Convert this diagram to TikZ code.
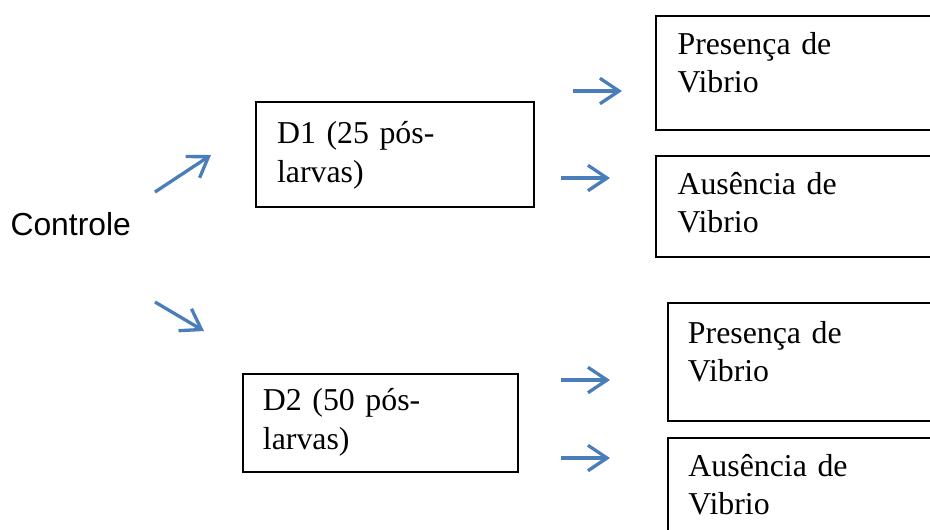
\documentclass[tikz,border=0pt]{standalone}
\usepackage{fontspec}
\setmainfont{Liberation Serif}
\newfontfamily\arialfont{Liberation Sans}
\usepackage{tikz}
\usetikzlibrary{arrows.meta}
\usetikzlibrary{positioning}
\definecolor{setaazul}{RGB}{74,126,187}
\tikzstyle{caixa} = [draw, rectangle, anchor=north west, line width=0.8pt,
inner ysep=0pt, align=left, font=\fontsize{12}{14.6}\selectfont]
\tikzstyle{seta} = [draw, -{Straight Barb[length=7.2pt,width=9.6pt]}, color=setaazul, line width=1.25pt]

\begin{document}
\begin{tikzpicture}[x=0.377pt, y=-0.377pt]
	\useasboundingbox (0,0) rectangle (930,529);
	\node [anchor=base west, inner sep=0pt, font=\arialfont\fontsize{12}{14}\selectfont] (ctrl) at (10,235) {Controle};
	%% Boxes
	\node [caixa, inner xsep=7.9pt, text width=88.9pt, text height=15.8pt, text depth=23.8pt] (d1) at (255,101) {D1 (25 pós-\\larvas)};
	\node [caixa, inner xsep=7.5pt, text width=88.7pt, text height=13.9pt, text depth=23pt] (d2) at (242,373) {D2 (50 pós-\\larvas)};
	\node [caixa, inner xsep=8.1pt, text width=100pt, text height=14.3pt, text depth=28.7pt] (p1) at (655,15) {Presença de\\Vibrio};
	\node [caixa, inner xsep=8.1pt, text width=100pt, text height=14.3pt, text depth=23.8pt] (a1) at (655,155) {Ausência de\\Vibrio};
	\node [caixa, inner xsep=7.5pt, text width=100pt, text height=15.1pt, text depth=29.4pt] (p2) at (667,302) {Presença de\\Vibrio};
	\node [caixa, inner xsep=7.7pt, text width=100pt, text height=14.3pt, text depth=32pt] (a2) at (667,437) {Ausência de\\Vibrio};
	%% Arrow ends
	\coordinate (up0) at (155,192);  \coordinate (up1) at (211,155);
	\coordinate (dn0) at (155,302);  \coordinate (dn1) at (204,331);
	\coordinate (r10) at (573,91);   \coordinate (r11) at (622,91);
	\coordinate (r20) at (561,178);  \coordinate (r21) at (610,178);
	\coordinate (r30) at (561,380);  \coordinate (r31) at (610,380);
	\coordinate (r40) at (561,458);  \coordinate (r41) at (610,458);
	%% Flows
	\path [seta] (up0) -- (up1);
	\path [seta] (dn0) -- (dn1);
	\path [seta] (r10) -- (r11);
	\path [seta] (r20) -- (r21);
	\path [seta] (r30) -- (r31);
	\path [seta] (r40) -- (r41);
\end{tikzpicture}
\end{document}
